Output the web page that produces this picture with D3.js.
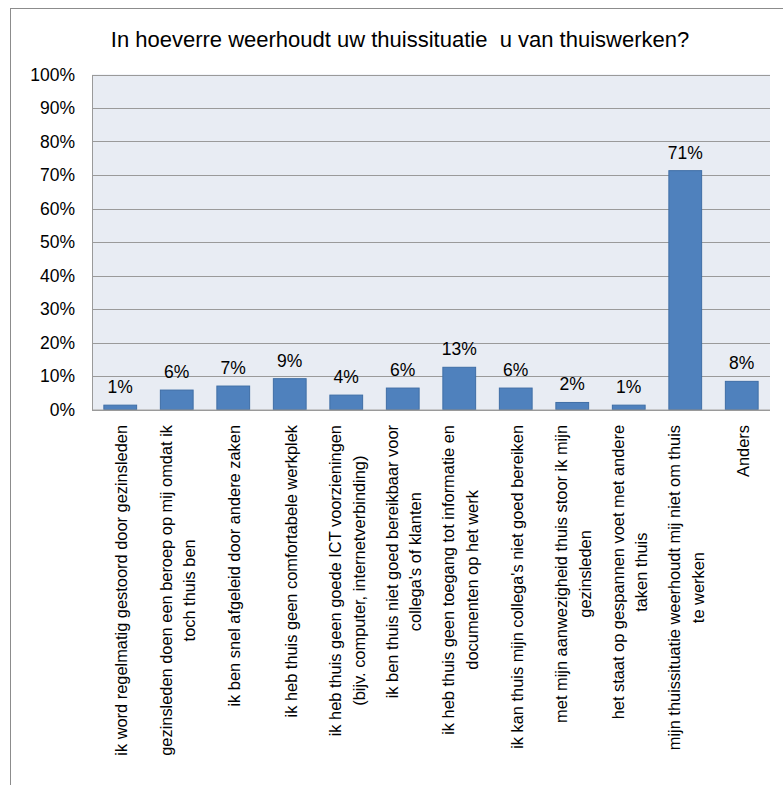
<!DOCTYPE html>
<html>
<head>
<meta charset="utf-8">
<script src="https://cdn.jsdelivr.net/npm/d3@7"></script>
<style>
  body { margin: 0; background: #fff; }
  svg { font-family: "Liberation Sans", Arial, sans-serif; }
</style>
</head>
<body>
<div id="chart"></div>
<script>
// categories, one entry per bar (lines as wrapped in the picture)
const categories = [
  ["ik word regelmatig gestoord door gezinsleden"],
  ["gezinsleden doen een beroep op mij omdat ik", "toch thuis ben"],
  ["ik ben snel afgeleid door andere zaken"],
  ["ik heb thuis geen comfortabele werkplek"],
  ["ik heb thuis geen goede ICT voorzieningen", "(bijv. computer, internetverbinding)"],
  ["ik ben thuis niet goed bereikbaar voor", "collega's of klanten"],
  ["ik heb thuis geen toegang tot informatie en", "documenten op het werk"],
  ["ik kan thuis mijn collega's niet goed bereiken"],
  ["met mijn aanwezigheid thuis stoor ik mijn", "gezinsleden"],
  ["het staat op gespannen voet met andere", "taken thuis"],
  ["mijn thuissituatie weerhoudt mij niet om thuis", "te werken"],
  ["Anders"]
];
// percentages
const values = [1.3, 5.8, 7.0, 9.2, 4.3, 6.4, 12.6, 6.4, 2.1, 1.3, 71.3, 8.4];
const yTicks = [0, 10, 20, 30, 40, 50, 60, 70, 80, 90, 100];
const title = "In hoeverre weerhoudt uw thuissituatie  u van thuiswerken?";

const width = 783, height = 785;
const plot = { left: 92, right: 770, top: 74.5, bottom: 409.5 };

const svg = d3.select("#chart")
  .append("svg")
  .attr("width", width)
  .attr("height", height);

// outer frame
svg.append("rect")
  .attr("x", 10.5).attr("y", 8.5)
  .attr("width", width).attr("height", height)
  .attr("fill", "#fff")
  .attr("stroke", "#8c8c8c");

svg.append("text")
  .attr("x", 400).attr("y", 47)
  .attr("text-anchor", "middle")
  .attr("font-size", 22)
  .style("white-space", "pre")
  .text(title);

const x = d3.scaleBand()
  .domain(d3.range(categories.length))
  .range([plot.left, plot.right])
  .paddingInner(0.42)
  .paddingOuter(0.21);

const y = d3.scaleLinear()
  .domain([0, 100])
  .range([plot.bottom, plot.top]);

// plot area
svg.append("rect")
  .attr("x", plot.left).attr("y", plot.top)
  .attr("width", plot.right - plot.left)
  .attr("height", plot.bottom - plot.top)
  .attr("fill", "#e8ecf3");

// gridlines
svg.append("g")
  .selectAll("line")
  .data(yTicks)
  .join("line")
  .attr("x1", plot.left).attr("x2", plot.right)
  .attr("y1", d => Math.round(y(d)) + 0.5)
  .attr("y2", d => Math.round(y(d)) + 0.5)
  .attr("stroke", "#9a9a9a");

// y axis
const yAxis = svg.append("g")
  .attr("transform", `translate(${plot.left},0)`)
  .call(d3.axisLeft(y).tickValues(yTicks).tickFormat(d => d + "%").tickSize(0).tickPadding(17));
yAxis.select(".domain").attr("stroke", "#9a9a9a");
yAxis.selectAll("text").attr("font-size", 17.5).attr("fill", "#000")
  .attr("font-family", "Liberation Sans, Arial, sans-serif");

// bars
svg.append("g")
  .selectAll("rect")
  .data(values)
  .join("rect")
  .attr("x", (d, i) => x(i))
  .attr("y", d => y(d))
  .attr("width", x.bandwidth())
  .attr("height", d => y(0) - y(d))
  .attr("fill", "#4f81bd")
  .attr("stroke", "#3f6ea6")
  .attr("stroke-width", 1);

// x axis line
svg.append("line")
  .attr("x1", plot.left).attr("x2", plot.right)
  .attr("y1", plot.bottom + 0.5).attr("y2", plot.bottom + 0.5)
  .attr("stroke", "#9a9a9a");

// value labels
svg.append("g")
  .selectAll("text")
  .data(values)
  .join("text")
  .attr("x", (d, i) => x(i) + x.bandwidth() / 2)
  .attr("y", d => y(d) - 12)
  .attr("text-anchor", "middle")
  .attr("font-size", 17.5)
  .text(d => Math.round(d) + "%");

// rotated category labels
const lineH = 24;
const labels = svg.append("g")
  .selectAll("g")
  .data(categories)
  .join("g")
  .attr("transform", (d, i) => `translate(${x(i) + x.bandwidth() / 2 + 1},425) rotate(-90)`);

labels.each(function(lines) {
  const g = d3.select(this);
  const texts = g.selectAll("text")
    .data(lines)
    .join("text")
    .attr("font-size", 16.4)
    .attr("text-anchor", "middle")
    .attr("dy", "0.35em")
    .attr("y", (d, j) => (j - (lines.length - 1) / 2) * lineH)
    .text(d => d);
  let maxW = 0;
  texts.each(function() { maxW = Math.max(maxW, this.getComputedTextLength()); });
  texts.attr("x", -maxW / 2);
});
</script>
</body>
</html>
